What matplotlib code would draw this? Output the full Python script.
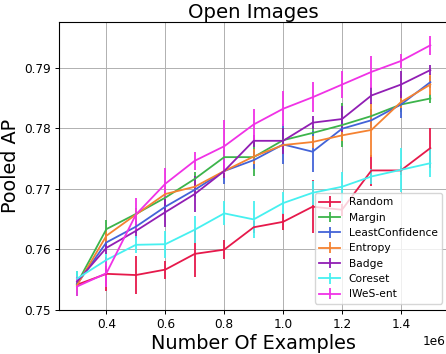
import matplotlib
matplotlib.use("Agg")
import matplotlib.pyplot as plt
import numpy as np

num_examples = [300000, 400000, 500000, 600000, 700000, 800000, 900000,
                1000000, 1100000, 1200000, 1300000, 1400000, 1500000]

random_ap = [0.7541, 0.7559, 0.7557, 0.7566, 0.7592, 0.7599, 0.7636, 0.7645, 0.7670, 0.7665, 0.7730, 0.7730, 0.7767]
random_err = [0.0005, 0.0028, 0.0031, 0.0015, 0.0039, 0.0016, 0.0010, 0.0014, 0.0044, 0.0010, 0.0025, 0.0008, 0.0033]

margin_ap = [0.7543, 0.7633, 0.7658, 0.7685, 0.7716, 0.7752, 0.7752, 0.7780, 0.7792, 0.7805, 0.7820, 0.7839, 0.7849]
margin_err = [0.0021, 0.0015, 0.0010, 0.0012, 0.0012, 0.0012, 0.0032, 0.0012, 0.0012, 0.0037, 0.0012, 0.0012, 0.0008]

leastconf_ap = [0.7542, 0.7611, 0.7637, 0.7670, 0.7698, 0.7729, 0.7747, 0.7773, 0.7761, 0.7799, 0.7813, 0.7839, 0.7876]
leastconf_err = [0.0008, 0.0012, 0.0010, 0.0012, 0.0012, 0.0022, 0.0015, 0.0033, 0.0034, 0.0012, 0.0012, 0.0023, 0.0010]

entropy_ap = [0.7540, 0.7622, 0.7657, 0.7691, 0.7703, 0.7729, 0.7753, 0.7772, 0.7777, 0.7788, 0.7797, 0.7843, 0.7872]
entropy_err = [0.0008, 0.0010, 0.0010, 0.0010, 0.0010, 0.0010, 0.0012, 0.0008, 0.0010, 0.0010, 0.0044, 0.0010, 0.0018]

badge_ap = [0.7546, 0.7602, 0.7630, 0.7661, 0.7691, 0.7729, 0.7779, 0.7779, 0.7809, 0.7815, 0.7854, 0.7872, 0.7896]
badge_err = [0.0008, 0.0010, 0.0012, 0.0025, 0.0029, 0.0012, 0.0010, 0.0022, 0.0011, 0.0022, 0.0014, 0.0022, 0.0008]

coreset_ap = [0.7551, 0.7582, 0.7607, 0.7608, 0.7632, 0.7659, 0.7649, 0.7676, 0.7693, 0.7703, 0.7720, 0.7731, 0.7742]
coreset_err = [0.0012, 0.0010, 0.0014, 0.0022, 0.0022, 0.0020, 0.0030, 0.0018, 0.0020, 0.0025, 0.0012, 0.0036, 0.0023]

iwes_ap = [0.7538, 0.7560, 0.7657, 0.7708, 0.7746, 0.7770, 0.7806, 0.7832, 0.7851, 0.7872, 0.7893, 0.7911, 0.7937]
iwes_err = [0.0015, 0.0023, 0.0027, 0.0026, 0.0015, 0.0044, 0.0025, 0.0029, 0.0025, 0.0023, 0.0027, 0.0011, 0.0016]

labels = ["Random", "Margin", "LeastConfidence", "Entropy", "Badge", "Coreset", "IWeS-ent"]
colors = ["#e6194b", "#3cb44b", "#4363d8", "#f58231", "#911eb4", "#46f0f0", "#f032e6"]

series = [
    (random_ap, random_err),
    (margin_ap, margin_err),
    (leastconf_ap, leastconf_err),
    (entropy_ap, entropy_err),
    (badge_ap, badge_err),
    (coreset_ap, coreset_err),
    (iwes_ap, iwes_err),
]

fig = plt.figure(figsize=(4.46, 3.54), dpi=100)
ax = fig.add_axes([0.133, 0.1257, 0.8715, 0.8130])

for (vals, errs), lab, col in zip(series, labels, colors):
    ax.errorbar(num_examples, vals, yerr=errs, color=col, label=lab,
                linewidth=1.3, elinewidth=1.3, capsize=0)

ax.set_ylim(0.75, 0.7976)
ax.set_yticks([0.75, 0.76, 0.77, 0.78, 0.79])
ax.grid(True, color="#b0b0b0", linewidth=0.7)
ax.set_axisbelow(True)
ax.tick_params(labelsize=8.7, length=3.0, width=0.7, pad=3.0)
ax.xaxis.get_offset_text().set_fontsize(8.7)
ax.xaxis.get_offset_text().set_x(0.993)
for s in ax.spines.values():
    s.set_linewidth(0.8)

ax.set_title("Open Images", fontsize=14.2, pad=2.5)
ax.set_xlabel("Number Of Examples", fontsize=13.9, labelpad=2)
ax.set_ylabel("Pooled AP", fontsize=13.9, labelpad=3)

ax.legend(loc="lower right", fontsize=7.7, borderaxespad=0.55)

fig.savefig("out.png", dpi=100)
